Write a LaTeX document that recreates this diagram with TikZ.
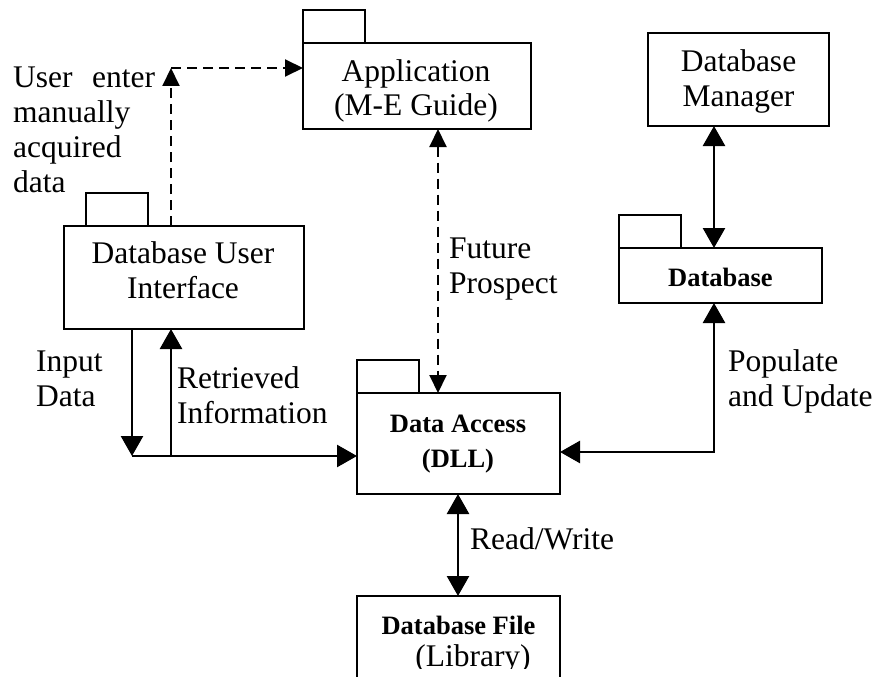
\documentclass[tikz,border=0pt]{standalone}
\usepackage{fontspec}
\setmainfont{Liberation Serif}
\usetikzlibrary{arrows.meta}

% left- and centre-aligned line stacks whose baseline is that of the first line
\newcommand{\txtl}[1]{\begin{tabular}[t]{@{}l@{}}#1\end{tabular}}
\newcommand{\txtc}[1]{\begin{tabular}[t]{@{}c@{}}#1\end{tabular}}

\begin{document}
\begin{tikzpicture}[x=1pt, y=-1pt,
  font=\fontsize{31.5}{35}\selectfont,
  boldtext/.style={font=\fontsize{26.5}{35}\selectfont\bfseries},
  box/.style={draw, line width=2pt, inner sep=0pt, outer sep=0pt},
  tabbox/.style={box, anchor=south west, minimum width=62pt, minimum height=33pt},
  lbl/.style={anchor=base west, inner sep=0pt},
  ctr/.style={anchor=base, inner sep=0pt},
  solidarrow/.style={line width=2.6pt, -{Triangle[length=20pt,width=22pt]}},
  bothsolid/.style={line width=2.6pt, {Triangle[length=20pt,width=22pt]}-{Triangle[length=20pt,width=22pt]}},
  dasharrow/.style={line width=2pt, dash pattern=on 10pt off 6pt, -{Triangle[length=18pt,width=17pt]}},
  bothdash/.style={line width=2pt, dash pattern=on 10pt off 6pt, {Triangle[length=18pt,width=17pt]}-{Triangle[length=18pt,width=17pt]}}
]
\useasboundingbox (0,0) rectangle (879,677);

% package boxes with their tabs
\node[box, minimum width=228pt, minimum height=86pt] (app) at (417,86) {};
\node[tabbox] (appTab) at (app.north west) {};

\node[box, minimum width=181pt, minimum height=93pt] (dbm) at (738.5,79.5) {};

\node[box, minimum width=203pt, minimum height=55pt] (db) at (720.5,275.5) {};
\node[tabbox] (dbTab) at (db.north west) {};

\node[box, minimum width=240pt, minimum height=103pt] (dbui) at (184,277.5) {};
\node[tabbox, xshift=22pt] (dbuiTab) at (dbui.north west) {};

\node[box, minimum width=203pt, minimum height=101pt] (da) at (458.5,443.5) {};
\node[tabbox] (daTab) at (da.north west) {};

\node[box, minimum width=203pt, minimum height=124pt] (dbf) at (458.5,658) {};

% texts inside the boxes
\node[ctr] (appText) at (416,82) {\txtc{Application\\[-2pt](M-E Guide)}};
\node[ctr] (dbmText) at (738.5,72) {\txtc{Database\\Manager}};
\node[ctr, boldtext] (dbText) at (720.5,286) {Database};
\node[ctr] (dbuiText) at (183,263) {\txtc{Database User\\Interface}};
\node[ctr, boldtext] (daText) at (458,432) {\txtc{Data Access\\(DLL)}};
\node[ctr, boldtext] (dbfText) at (458.5,634) {Database File};
\begin{scope}
  \clip (0,0) rectangle (879,668);
  \node[ctr] (libText) at (473,666) {(Library)};
\end{scope}

% connector labels
\node[lbl] (userLbl) at (13,88) {\txtl{\hbox to 142pt{User\hfill enter}\\manually\\acquired\\data}};
\node[lbl] (futureLbl) at (449,258) {\txtl{Future\\Prospect}};
\node[lbl] (inputLbl) at (36,371) {\txtl{Input\\Data}};
\node[lbl] (retrLbl) at (177,388) {\txtl{Retrieved\\Information}};
\node[lbl] (popLbl) at (728,371) {\txtl{Populate\\and Update}};
\node[lbl] (rwLbl) at (470,549) {Read/Write};

% bend points and connector columns
\coordinate (ucorner) at (171,68);
\coordinate (fpx) at (438,0);
\coordinate (mgx) at (714,0);
\coordinate (pcorner) at (714,452);
\coordinate (inCorner) at (132,456);
\coordinate (rtFoot) at (171,456);
\coordinate (rwx) at (458,0);

% dashed links: manual entry and future prospect
\draw[dasharrow] (ucorner |- dbui.north) -- (ucorner);
\draw[dasharrow] (ucorner) -- (ucorner -| app.west);
\draw[bothdash] (app.south -| fpx) -- (da.north -| fpx);

% solid links
\draw[bothsolid] (dbm.south -| mgx) -- (db.north -| mgx);
\draw[bothsolid] (db.south -| pcorner) -- (pcorner) -- (pcorner -| da.east);
\draw[solidarrow] (dbui.south -| inCorner) -- (inCorner);
\draw[solidarrow] (inCorner) -- (inCorner -| da.west);
\draw[solidarrow] (rtFoot) -- (rtFoot |- dbui.south);
\draw[bothsolid] (da.south -| rwx) -- (dbf.north -| rwx);
\end{tikzpicture}
\end{document}
